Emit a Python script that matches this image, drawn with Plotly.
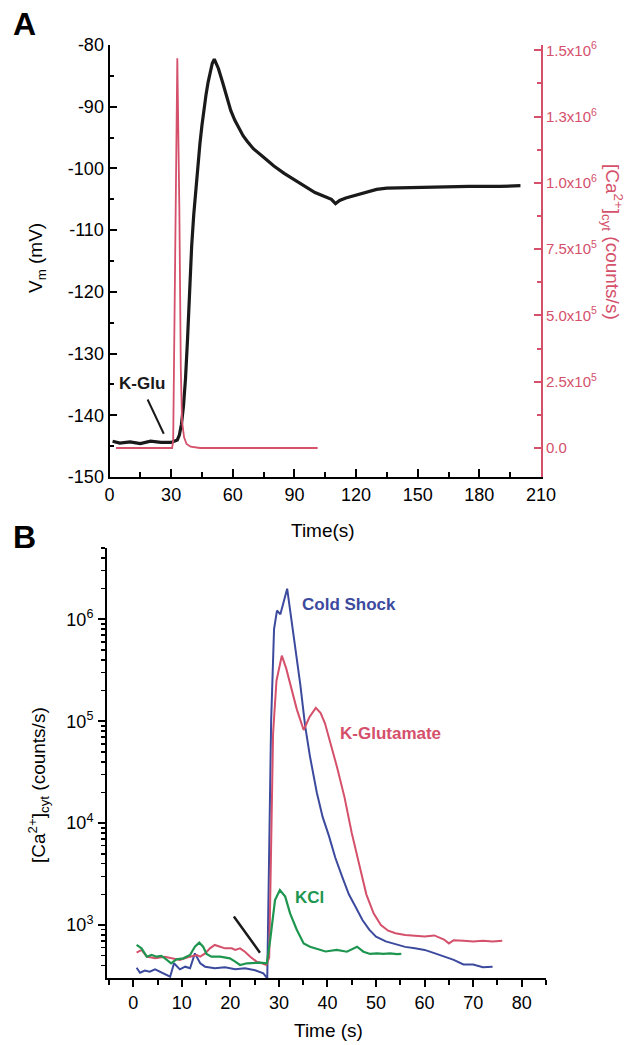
import numpy as np
import plotly.graph_objects as go

# ---------------- Panel A data ----------------
vm_time = [1.5, 5, 10, 15, 20, 25, 30, 32, 33, 34, 35, 36, 37, 38, 39, 40, 41, 42, 43, 44, 45,
           46, 47, 48, 49, 50, 51, 53, 55, 57, 59, 61, 63, 65, 67, 70, 75, 80, 85, 90, 95, 100,
           105, 108, 110, 112, 115, 120, 125, 130, 135, 145, 160, 175, 190, 200]
vm_values = [-144.2, -144.5, -144.3, -144.6, -144.2, -144.4, -144.4, -144.2, -144.0, -143.2,
             -141.5, -138.5, -134.0, -127.5, -119.5, -112.5, -107.5, -103.3, -99.5, -96.0,
             -93.0, -90.3, -88.0, -86.0, -84.3, -83.0, -82.3, -83.8, -86.0, -88.5, -90.6,
             -92.2, -93.5, -94.7, -95.6, -96.8, -98.2, -99.6, -100.8, -101.8, -102.9, -103.9,
             -104.6, -105.0, -105.7, -105.2, -104.8, -104.3, -103.8, -103.4, -103.2, -103.1,
             -103.0, -102.9, -102.9, -102.8]

ca_a_time = [3.2, 30.5, 31.0, 31.6, 32.2, 33.0, 34.0, 34.7, 35.3, 36.3, 37.5, 39.5, 44, 101.3]
ca_a_values = [0, 0, 3e4, 4e5, 9e5, 1.47e6, 9e5, 3e5, 1e5, 4e4, 1.5e4, 5e3, 0, 0]

a_x_ticks = [0, 30, 60, 90, 120, 150, 180, 210]
a_y_ticks = [-150, -140, -130, -120, -110, -100, -90, -80]
a_y_ticktext = ['-150', '-140', '-130', '-120', '-110', '-100', '-90', '-80']
a_y2_tickvals = [0, 2.5e5, 5.0e5, 7.5e5, 1.0e6, 1.25e6, 1.5e6]
a_y2_ticktext = ['0.0', '2.5x10<sup>5</sup>', '5.0x10<sup>5</sup>', '7.5x10<sup>5</sup>',
                 '1.0x10<sup>6</sup>', '1.3x10<sup>6</sup>', '1.5x10<sup>6</sup>']

# ---------------- Panel B data ----------------
cold_time = [0.7, 1.4, 2.4, 3.4, 4.5, 5.5, 6.5, 7.6, 8.4, 9.6, 10.7, 11.7, 12.7, 13.8, 14.8,
             16.8, 18.9, 21, 23, 25.1, 26.8, 27.6, 28.4, 29.0, 29.6, 30.3, 31.7, 33, 34.4,
             35.4, 36.4, 37.8, 39, 40.3, 41.6, 43, 44.4, 45.8, 47.2, 48.6, 50, 52, 54, 56,
             58, 60, 62, 64, 66, 68, 70, 72, 74]
cold_values = [381, 340, 357, 348, 367, 348, 336, 311, 421, 367, 390, 376, 527, 421, 390,
               376, 385, 368, 376, 360, 336, 300, 1e5, 8e5, 1.22e6, 1.12e6, 2.0e6, 7.2e5,
               2.3e5, 9e4, 4.5e4, 2.0e4, 1.15e4, 7.5e3, 4.6e3, 3.0e3, 2.0e3, 1.5e3, 1.12e3,
               900, 770, 690, 650, 610, 590, 570, 530, 490, 455, 410, 410, 385, 390]

kglu_time = [0.7, 1.7, 2.8, 4.5, 6.5, 8.6, 9.6, 11.7, 13.1, 13.8, 14.8, 15.8, 16.8, 17.9,
             18.9, 20.3, 21, 22, 23, 24.1, 25.4, 26.5, 27.4, 28.0, 28.8, 29.5, 30.6, 31.5,
             32.3, 33.7, 35.1, 36.3, 37.6, 38.6, 39.5, 40.5, 42, 43.5, 45, 46.5, 48, 49.5,
             51, 52.5, 54, 56, 58, 60, 62, 64, 65, 66, 68, 70, 72, 74, 76]
kglu_values = [535, 569, 489, 471, 489, 460, 454, 489, 508, 489, 527, 590, 637, 612, 590,
               590, 569, 590, 547, 489, 437, 421, 405, 480, 7.6e4, 2.5e5, 4.4e5, 3.3e5,
               2.35e5, 1.3e5, 8.2e4, 1.1e5, 1.35e5, 1.2e5, 9.5e4, 6.5e4, 3.5e4, 1.8e4, 8e3,
               4e3, 2e3, 1.3e3, 1.0e3, 880, 830, 800, 790, 770, 790, 720, 660, 710, 700, 690,
               700, 690, 700]

kcl_time = [0.7, 1.7, 2.8, 3.8, 4.8, 5.8, 6.8, 7.8, 8.9, 10.3, 11.7, 12.7, 13.6, 14.4, 15.1,
            16.1, 17.9, 19.9, 21, 22, 23.4, 24.7, 26.1, 27.5, 28.2, 29.2, 30.2, 31.3, 32.3,
            33.7, 35.1, 36.4, 37.8, 39.6, 41.9, 44, 46.1, 47.4, 48.8, 50.2, 51.5, 52.9,
            54.3, 55.2]
kcl_values = [637, 590, 489, 508, 489, 497, 460, 421, 460, 471, 508, 612, 671, 612, 520,
              489, 489, 471, 437, 405, 421, 427, 427, 421, 713, 1760, 2200, 1900, 1300, 893,
              660, 612, 580, 550, 569, 547, 612, 547, 520, 527, 520, 527, 517, 520]

b_x_ticks = [0, 10, 20, 30, 40, 50, 60, 70, 80]
b_y_tickvals = [1e3, 1e4, 1e5, 1e6]
b_y_ticktext = ['10<sup>3</sup>', '10<sup>4</sup>', '10<sup>5</sup>', '10<sup>6</sup>']

# ---------------- styling ----------------
W, H = 644, 1045
RED = '#d4506b'
BLUE = '#3c4a9e'
GREEN = '#1e9650'
BLACK = '#1a1a1a'
FONT = 'Liberation Sans, Arial, sans-serif'


def px(x):
    return x / W


def py(y):
    return 1 - y / H


fig = go.Figure()

fig.add_trace(go.Scatter(x=vm_time, y=vm_values, mode='lines', xaxis='x', yaxis='y',
                         line=dict(color=BLACK, width=3.2), showlegend=False))
fig.add_trace(go.Scatter(x=ca_a_time, y=ca_a_values, mode='lines', xaxis='x', yaxis='y2',
                         line=dict(color=RED, width=1.8), showlegend=False))

fig.add_trace(go.Scatter(x=cold_time, y=cold_values, mode='lines', xaxis='x2', yaxis='y3',
                         line=dict(color=BLUE, width=2), showlegend=False))
fig.add_trace(go.Scatter(x=kglu_time, y=kglu_values, mode='lines', xaxis='x2', yaxis='y3',
                         line=dict(color=RED, width=2), showlegend=False))
fig.add_trace(go.Scatter(x=kcl_time, y=kcl_values, mode='lines', xaxis='x2', yaxis='y3',
                         line=dict(color=GREEN, width=2.2), showlegend=False))

tickfont = dict(family=FONT, size=18, color='black')
common = dict(showgrid=False, zeroline=False, showline=True, linewidth=2, tickwidth=2,
              automargin=False)

fig.update_layout(
    template='none',
    width=W, height=H,
    margin=dict(l=0, r=0, t=0, b=0, pad=0),
    paper_bgcolor='white', plot_bgcolor='white',
    font=dict(family=FONT, color='black'),
    hovermode=False,
    xaxis=dict(domain=[px(109.5), px(541)], anchor='y', range=[0, 210],
               tickvals=a_x_ticks, ticks='inside', ticklen=8, linecolor='black',
               tickcolor='black', tickfont=tickfont, ticklabelstandoff=0,
               minor=dict(ticks='inside', ticklen=5, dtick=15, tick0=0, tickcolor='black',
                          tickwidth=2),
               **common),
    yaxis=dict(domain=[py(477), py(45)], anchor='x', range=[-150, -80],
               tickvals=a_y_ticks, ticktext=a_y_ticktext, ticks='inside', ticklen=7,
               linecolor='black', tickcolor='black', tickfont=tickfont, ticklabelstandoff=0,
               minor=dict(ticks='inside', ticklen=4, dtick=5, tick0=0, tickcolor='black',
                          tickwidth=2),
               **common),
    yaxis2=dict(overlaying='y', side='right', anchor='x', range=[-1.094e5, 1.52e6],
                tickvals=a_y2_tickvals, ticktext=a_y2_ticktext, ticks='inside', ticklen=7,
                linecolor=RED, tickcolor=RED,
                tickfont=dict(family=FONT, size=15, color=RED), ticklabelstandoff=0,
                minor=dict(ticks='inside', ticklen=4, dtick=1.25e5, tick0=0, tickcolor=RED,
                           tickwidth=2),
                **common),
    xaxis2=dict(domain=[px(107), px(546)], anchor='y3', range=[-5.4, 85],
                tickvals=b_x_ticks, ticks='outside', ticklen=7, linecolor='black',
                tickcolor='black', tickfont=tickfont, ticklabelstandoff=0,
                minor=dict(ticks='outside', ticklen=5, dtick=5, tick0=0, tickcolor='black',
                           tickwidth=2),
                **common),
    yaxis3=dict(domain=[py(978), py(548)], anchor='x2', type='log', range=[2.48, 6.70],
                tickvals=b_y_tickvals, ticktext=b_y_ticktext, ticks='outside', ticklen=7,
                linecolor='black', tickcolor='black', tickfont=tickfont, ticklabelstandoff=1,
                minor=dict(ticks='outside', ticklen=4, dtick='D1', tickcolor='black',
                           tickwidth=1.5),
                **common),
)

ann = []
title_font = dict(family=FONT, size=19, color='black')


def paper_text(text, x, y, font, angle=0):
    return dict(text=text, x=px(x), y=py(y), xref='paper', yref='paper', showarrow=False,
                xanchor='center', yanchor='middle', textangle=angle, font=font)


# Panel letters
ann.append(paper_text('<b>A</b>', 24, 24, dict(family=FONT, size=32, color='black')))
ann.append(paper_text('<b>B</b>', 24, 537, dict(family=FONT, size=32, color='black')))
# Axis titles
ann.append(paper_text('Time(s)', 323, 530, title_font))
ann.append(paper_text('V<sub>m</sub> (mV)', 37, 258, title_font, -90))
ann.append(paper_text('[Ca<sup>2+</sup>]<sub>cyt</sub> (counts/s)', 613, 242,
                      dict(family=FONT, size=19, color=RED), 90))
ann.append(paper_text('Time (s)', 328, 1030, title_font))
ann.append(paper_text('[Ca<sup>2+</sup>]<sub>cyt</sub> (counts/s)', 38, 785, title_font, -90))

# Panel A markers
ann.append(dict(text='<b>K-Glu</b>', x=16.0, y=-134.9, xref='x', yref='y', showarrow=False,
                xanchor='center', yanchor='middle',
                font=dict(family=FONT, size=17, color=BLACK)))
ann.append(dict(text='', x=26.4, y=-143.0, ax=18.2, ay=-137.2, xref='x', yref='y',
                axref='x', ayref='y', showarrow=True, arrowhead=0, arrowwidth=2,
                arrowcolor=BLACK))

# Panel B labels
ann.append(dict(text='<b>Cold Shock</b>', x=34.4, y=np.log10(1.40e6), xref='x2', yref='y3',
                xanchor='left', yanchor='middle', showarrow=False,
                font=dict(family=FONT, size=17, color=BLUE)))
ann.append(dict(text='<b>K-Glutamate</b>', x=42.1, y=np.log10(7.6e4), xref='x2', yref='y3',
                xanchor='left', yanchor='middle', showarrow=False,
                font=dict(family=FONT, size=17, color=RED)))
ann.append(dict(text='<b>KCl</b>', x=33.0, y=np.log10(1.88e3), xref='x2', yref='y3',
                xanchor='left', yanchor='middle', showarrow=False,
                font=dict(family=FONT, size=17, color=GREEN)))
ann.append(dict(text='', x=26.1, y=np.log10(535), ax=20.5, ay=np.log10(1253), xref='x2',
                yref='y3', axref='x2', ayref='y3', showarrow=True, arrowhead=0,
                arrowwidth=2.5, arrowcolor=BLACK))

fig.update_layout(annotations=ann)

fig.write_html('out.html',
               config={'displayModeBar': False, 'staticPlot': True},
               post_script="document.body.style.margin='0';document.body.style.padding='0';"
                           "document.documentElement.style.overflow='hidden';")
